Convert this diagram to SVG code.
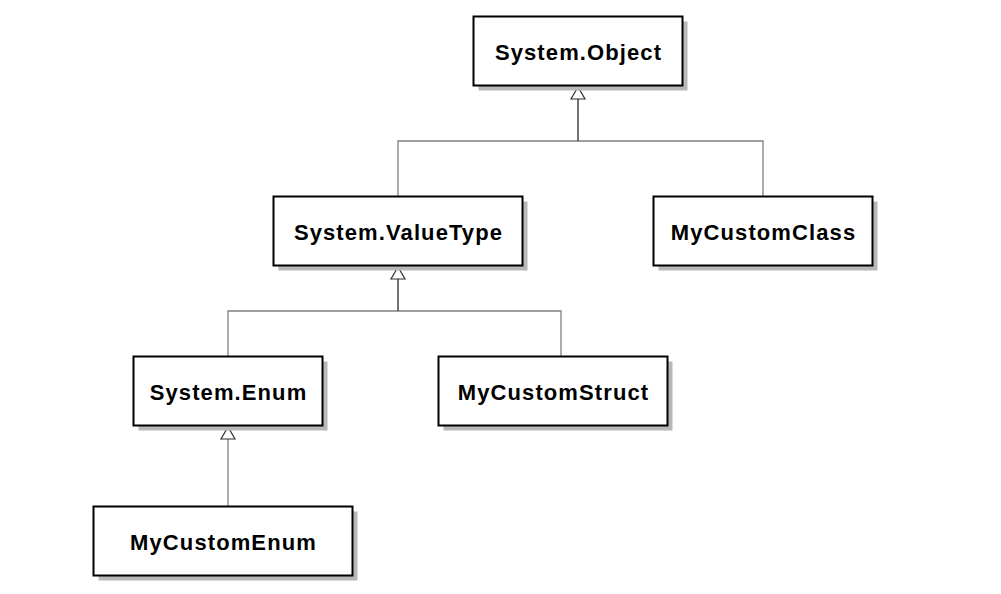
<svg xmlns="http://www.w3.org/2000/svg" width="1001" height="594" viewBox="0 0 1001 594">
<style>
.shadow{fill:#b8b8b8;stroke:none}
.box{fill:#ffffff;stroke:#000000;stroke-width:2}
.lbl{font-family:"Liberation Sans",Arial,sans-serif;font-weight:bold;font-size:22px;letter-spacing:1.1px;text-anchor:middle;fill:#000000}
.conn{fill:none;stroke:#808080;stroke-width:1.3}
.trunk{fill:none;stroke:#505050;stroke-width:1.6}
.head{fill:#ffffff;stroke:#303030;stroke-width:1.2}
</style>
<rect width="1001" height="594" fill="#ffffff"/>
<g id="connectors">
<polyline class="conn" points="398,196 398,141 763,141 763,196"/>
<line class="trunk" x1="578" y1="99" x2="578" y2="141"/>
<polygon class="head" points="578,87 571,99 585,99"/>
<polyline class="conn" points="228,356 228,311 561,311 561,356"/>
<line class="trunk" x1="398" y1="279" x2="398" y2="311"/>
<polygon class="head" points="398,267 391,279 405,279"/>
<line class="conn" x1="228" y1="439" x2="228" y2="506"/>
<polygon class="head" points="228,427 221,439 235,439"/>
</g>
<g id="node-system-object">
<rect class="shadow" x="478.5" y="21.5" width="209" height="69"/>
<rect class="box" x="473.5" y="16.5" width="209" height="69"/>
<text class="lbl" x="578.5" y="60">System.Object</text>
</g>
<g id="node-system-valuetype">
<rect class="shadow" x="278.5" y="201.5" width="249" height="69"/>
<rect class="box" x="273.5" y="196.5" width="249" height="69"/>
<text class="lbl" x="398.5" y="239.5">System.ValueType</text>
</g>
<g id="node-mycustomclass">
<rect class="shadow" x="658.5" y="201.5" width="219" height="69"/>
<rect class="box" x="653.5" y="196.5" width="219" height="69"/>
<text class="lbl" x="763.5" y="239.5">MyCustomClass</text>
</g>
<g id="node-system-enum">
<rect class="shadow" x="138.5" y="361.5" width="189" height="69"/>
<rect class="box" x="133.5" y="356.5" width="189" height="69"/>
<text class="lbl" x="228.5" y="399.5">System.Enum</text>
</g>
<g id="node-mycustomstruct">
<rect class="shadow" x="443.5" y="361.5" width="229" height="69"/>
<rect class="box" x="438.5" y="356.5" width="229" height="69"/>
<text class="lbl" x="553.5" y="399.5">MyCustomStruct</text>
</g>
<g id="node-mycustomenum">
<rect class="shadow" x="98.5" y="511.5" width="259" height="69"/>
<rect class="box" x="93.5" y="506.5" width="259" height="69"/>
<text class="lbl" x="223.5" y="549.5">MyCustomEnum</text>
</g>
</svg>
